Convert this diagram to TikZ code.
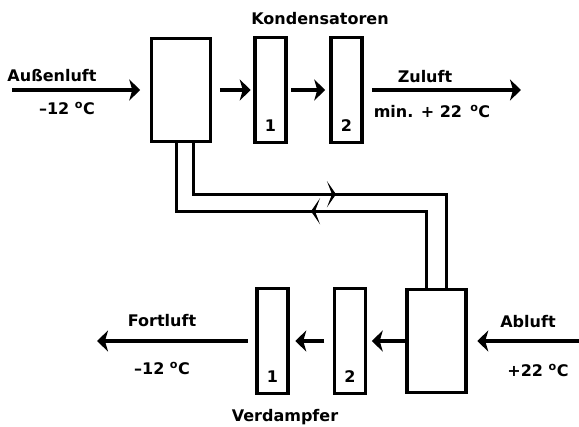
\documentclass[tikz,border=0pt]{standalone}
\usepackage{fontspec}
\setmainfont{DejaVu Sans}
\usetikzlibrary{arrows.meta,positioning,decorations.markings}

\tikzset{
	hx/.style={draw, line width=3.5pt, minimum width=59pt, minimum height=103pt, inner sep=0pt},
	cond/.style={draw, line width=3.5pt, minimum width=31pt, minimum height=105pt, inner sep=0pt},
	flow/.style={line width=4pt, -{Stealth[length=11pt,width=21pt,inset=3pt]}},
	pipe/.style={line width=3pt},
	pipearrow/.style={postaction={decorate}, decoration={markings,
		mark=at position #1 with {\arrow{Stealth[length=9pt,width=26pt,inset=5pt]}}}},
	lbl/.style={font=\bfseries\fontsize{16}{19}\selectfont, inner sep=0pt, anchor=base},
	num/.style={font=\bfseries\fontsize{16}{19}\selectfont, inner sep=0pt},
}

\begin{document}
\begin{tikzpicture}[x=1pt,y=-1pt]
	\useasboundingbox (0,0) rectangle (579,427);

	% upper row: heat exchanger and condensers
	\node[hx] (hx1) at (181,90) {};
	\node[cond] (k1) at (270.5,90) {};
	\node[cond] (k2) at (346.5,90) {};
	\node[num, above=13pt of k1.south] (k1n) {1};
	\node[num, above=13pt of k2.south] (k2n) {2};

	% lower row: evaporators and heat exchanger
	\node[hx] (hx2) at (436.5,341) {};
	\node[cond] (v2) at (350,341) {};
	\node[cond] (v1) at (272.5,341) {};
	\node[num, above=13pt of v1.south] (v1n) {1};
	\node[num, above=13pt of v2.south] (v2n) {2};

	\coordinate (inl) at (12,90);
	\coordinate (zul) at (521,90);
	\coordinate (abl) at (579,341);
	\coordinate (fol) at (97,341);

	% air flow
	\draw[flow, shorten >=9.5pt] (inl) -- (hx1);
	\draw[flow, shorten <=7.5pt, shorten >=2.5pt] (hx1) -- (k1);
	\draw[flow, shorten <=3.5pt, shorten >=4pt] (k1) -- (k2);
	\draw[flow, shorten <=8pt] (k2) -- (zul);

	\draw[flow, shorten >=9.5pt] (abl) -- (hx2);
	\draw[flow, shorten >=4.5pt] (hx2) -- (v2);
	\draw[flow, shorten <=8.5pt, shorten >=5.5pt] (v2) -- (v1);
	\draw[flow, shorten <=7.5pt] (v1) -- (fol);

	% circuit between the two heat exchangers
	\draw[pipe, pipearrow=194pt] ([xshift=12pt]hx1.south) -- ++(0,51) -| ([xshift=10pt]hx2.north);
	\draw[pipe, pipearrow=192pt] ([xshift=-10pt]hx2.north) -- ++(0,-76.5) -| ([xshift=-5pt]hx1.south);

	% labels
	\node[lbl] (kond) at (320,25) {Kondensatoren};
	\node[lbl] (verd) at (285,422) {Verdampfer};
	\node[lbl] (aussen) at (52,82) {Außenluft};
	\node[lbl] (aussent) at (67,115) {--12 \textsuperscript{o}C};
	\node[lbl] (zu) at (425,83) {Zuluft};
	\node[lbl] (zut) at (432,118) {min. + 22 \,\textsuperscript{o}C};
	\node[lbl] (ab) at (528,328) {Abluft};
	\node[lbl] (abt) at (538,377) {+22 \textsuperscript{o}C};
	\node[lbl] (fort) at (162,327) {Fortluft};
	\node[lbl] (fortt) at (162,375) {--12 \textsuperscript{o}C};
\end{tikzpicture}
\end{document}
